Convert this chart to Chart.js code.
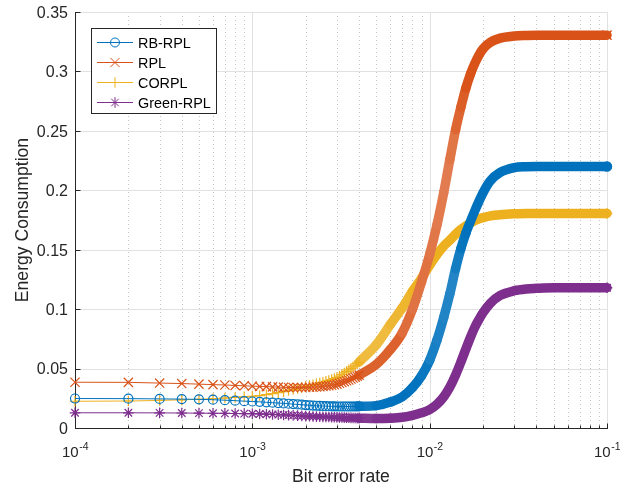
<!DOCTYPE html>
<html>
<head>
<meta charset="utf-8">
<script src="https://cdn.jsdelivr.net/npm/chart.js@4.4.1/dist/chart.umd.min.js"></script>
<style>
  html, body { margin: 0; padding: 0; background: #fff; }
</style>
</head>
<body>
<canvas id="chart" width="632" height="487"></canvas>
<script>
// series names, in legend order
const seriesNames = ['RB-RPL', 'RPL', 'CORPL', 'Green-RPL'];

// distinct markers, bit error rate from 1e-4 to 4e-3
const markerX = [
  0.0001, 0.0002, 0.0003, 0.0004, 0.0005, 0.0006, 0.0007, 0.0008, 0.0009, 0.0010,
  0.0011, 0.0012, 0.0013, 0.0014, 0.0015, 0.0016, 0.0017, 0.0018, 0.0019, 0.0020,
  0.0021, 0.0022, 0.0023, 0.0024, 0.0025, 0.0026, 0.0027, 0.0028, 0.0029, 0.0030,
  0.0031, 0.0032, 0.0033, 0.0034, 0.0035, 0.0036, 0.0037, 0.0038, 0.0039, 0.0040
];
const rbRplMarks = [
  0.0248, 0.0247, 0.0245, 0.0243, 0.0241, 0.0238, 0.0234, 0.0230, 0.0226, 0.0223,
  0.0220, 0.0216, 0.0213, 0.0210, 0.0207, 0.0204, 0.0201, 0.0198, 0.0196, 0.0193,
  0.0191, 0.0189, 0.0187, 0.0186, 0.0185, 0.0184, 0.0183, 0.0182, 0.0182, 0.0181,
  0.0181, 0.0181, 0.0181, 0.0181, 0.0181, 0.0181, 0.0181, 0.0181, 0.0182, 0.0182
];
const rplMarks = [
  0.0385, 0.0384, 0.0378, 0.0374, 0.0369, 0.0365, 0.0362, 0.0358, 0.0355, 0.0352,
  0.0350, 0.0348, 0.0346, 0.0344, 0.0342, 0.0341, 0.0340, 0.0340, 0.0340, 0.0341,
  0.0342, 0.0343, 0.0345, 0.0347, 0.0350, 0.0353, 0.0356, 0.0360, 0.0364, 0.0369,
  0.0376, 0.0383, 0.0390, 0.0397, 0.0404, 0.0412, 0.0420, 0.0428, 0.0436, 0.0445
];
const corplMarks = [
  0.0225, 0.0227, 0.0232, 0.0237, 0.0242, 0.0247, 0.0252, 0.0257, 0.0262, 0.0267,
  0.0273, 0.0281, 0.0290, 0.0298, 0.0306, 0.0315, 0.0324, 0.0333, 0.0342, 0.0350,
  0.0357, 0.0364, 0.0371, 0.0378, 0.0385, 0.0392, 0.0400, 0.0408, 0.0416, 0.0424,
  0.0437, 0.0450, 0.0463, 0.0476, 0.0489, 0.0502, 0.0515, 0.0528, 0.0541, 0.0555
];
const greenRplMarks = [
  0.0128, 0.0128, 0.0127, 0.0126, 0.0125, 0.0124, 0.0123, 0.0122, 0.0121, 0.0120,
  0.0118, 0.0116, 0.0114, 0.0112, 0.0110, 0.0108, 0.0106, 0.0104, 0.0102, 0.0100,
  0.0099, 0.0097, 0.0096, 0.0095, 0.0094, 0.0093, 0.0092, 0.0091, 0.0090, 0.0089,
  0.0088, 0.0088, 0.0087, 0.0086, 0.0086, 0.0085, 0.0084, 0.0084, 0.0083, 0.0083
];

// dense part, where the markers merge into a band
const bandX = [
  0.004, 0.005, 0.006, 0.007, 0.008, 0.009, 0.010, 0.011, 0.012,
  0.013, 0.014, 0.015, 0.016, 0.017, 0.018, 0.019, 0.020, 0.022, 0.025,
  0.030, 0.035, 0.040, 0.050, 0.070, 0.100
];
const rbRplBand = [
  0.0182, 0.0188, 0.0218, 0.0262, 0.0340, 0.0440, 0.0570, 0.0740, 0.0930,
  0.1130, 0.1340, 0.1510, 0.1640, 0.1740, 0.1830, 0.1910, 0.1980, 0.2080, 0.2150,
  0.2190, 0.2198, 0.2200, 0.2200, 0.2200, 0.2200
];
const rplBand = [
  0.0445, 0.0535, 0.0660, 0.0800, 0.1000, 0.1230, 0.1460, 0.1710, 0.1980,
  0.2260, 0.2510, 0.2700, 0.2860, 0.2980, 0.3070, 0.3140, 0.3190, 0.3245, 0.3280,
  0.3298, 0.3303, 0.3305, 0.3305, 0.3305, 0.3305
];
const corplBand = [
  0.0555, 0.0700, 0.0870, 0.1010, 0.1150, 0.1260, 0.1370, 0.1460, 0.1530,
  0.1580, 0.1630, 0.1670, 0.1700, 0.1725, 0.1745, 0.1760, 0.1770, 0.1785, 0.1795,
  0.1802, 0.1805, 0.1805, 0.1805, 0.1805, 0.1805
];
const greenRplBand = [
  0.0083, 0.0079, 0.0082, 0.0090, 0.0107, 0.0128, 0.0155, 0.0200, 0.0262,
  0.0345, 0.0445, 0.0555, 0.0665, 0.0765, 0.0850, 0.0915, 0.0970, 0.1050, 0.1115,
  0.1155, 0.1170, 0.1175, 0.1180, 0.1180, 0.1180
];

// axes
const xMajor = [0.0001, 0.001, 0.01, 0.1];
const xMajorExp = ['-4', '-3', '-2', '-1'];
const xMinorMult = [2, 3, 4, 5, 6, 7, 8, 9];
const yTicks = [0, 0.05, 0.1, 0.15, 0.2, 0.25, 0.3, 0.35];
const yTickLabels = ['0', '0.05', '0.1', '0.15', '0.2', '0.25', '0.3', '0.35'];

const colors = ['#0072BD', '#D95319', '#EDB120', '#7E2F8E'];
const rgb = [[0, 114, 189], [217, 83, 25], [237, 177, 32], [126, 47, 142]];
const markStyles = ['circle', 'crossRot', 'cross', 'star'];
const markRadius = [4.5, 6.5, 5.3, 5.3];
const drawOrder = [0, 1, 3, 2]; // lower is drawn on top
const FONT = "'Liberation Sans', Arial, Helvetica, sans-serif";
const AXIS = '#262626';

const marks = [rbRplMarks, rplMarks, corplMarks, greenRplMarks];
const bands = [rbRplBand, rplBand, corplBand, greenRplBand];

// the original has one marker every 1e-4; where they spread apart the band looks lighter
function bandColor(i) {
    return (ctx) => {
        const p0 = ctx.p0, p1 = ctx.p1;
        const xv = p0.parsed.x;
        const step = 177.3 * Math.log10(1 + 0.0001 / xv);
        const m = Math.abs(p1.y - p0.y) / Math.max(0.01, Math.abs(p1.x - p0.x));
        const gap = step * Math.sqrt(1 + m * m);
        const f = Math.min(0.24, Math.max(0, (gap - 1.5) * 0.12));
        const c = rgb[i].map(v => Math.round(v + (255 - v) * f));
        return 'rgb(' + c.join(',') + ')';
    };
}

const datasets = [];
seriesNames.forEach((name, i) => {
    datasets.push({
        label: name + ' band',
        data: bandX.map((x, k) => ({ x: x, y: bands[i][k] })),
        borderColor: colors[i],
        borderWidth: 9.5,
        borderCapStyle: 'round',
        borderJoinStyle: 'round',
        cubicInterpolationMode: 'monotone',
        segment: { borderColor: bandColor(i) },
        pointStyle: markStyles[i],
        pointRadius: (ctx) => ctx.dataIndex === bandX.length - 1 ? markRadius[i] : 0,
        pointBorderColor: colors[i],
        pointBackgroundColor: 'rgba(0,0,0,0)',
        pointBorderWidth: 1.5,
        clip: false,
        order: drawOrder[i] + 0.5
    });
    datasets.push({
        label: name,
        data: markerX.map((x, k) => ({ x: x, y: marks[i][k] })),
        borderColor: colors[i],
        borderWidth: 1,
        pointStyle: markStyles[i],
        pointRadius: markRadius[i],
        pointBorderColor: colors[i],
        pointBackgroundColor: 'rgba(0,0,0,0)',
        pointBorderWidth: 1.2,
        clip: false,
        order: drawOrder[i]
    });
});

function line(ctx, x0, y0, x1, y1) {
    ctx.beginPath();
    ctx.moveTo(x0, y0);
    ctx.lineTo(x1, y1);
    ctx.stroke();
}

function drawMarker(ctx, style, r, x, y) {
    const d = r * Math.SQRT1_2;
    ctx.beginPath();
    if (style === 'circle') {
        ctx.arc(x, y, r, 0, Math.PI * 2);
    }
    if (style === 'cross' || style === 'star') {
        ctx.moveTo(x - r, y); ctx.lineTo(x + r, y);
        ctx.moveTo(x, y - r); ctx.lineTo(x, y + r);
    }
    if (style === 'crossRot' || style === 'star') {
        ctx.moveTo(x - d, y - d); ctx.lineTo(x + d, y + d);
        ctx.moveTo(x - d, y + d); ctx.lineTo(x + d, y - d);
    }
    ctx.stroke();
}

// grid, axes, ticks and labels drawn like MATLAB
const matlabAxes = {
    id: 'matlabAxes',
    beforeDatasetsDraw(chart) {
        const { ctx, chartArea: a, scales: { x, y } } = chart;
        const px = (v) => Math.round(x.getPixelForValue(v)) + 0.5;
        const py = (v) => Math.round(y.getPixelForValue(v)) + 0.5;
        const minors = [];
        xMajor.slice(0, -1).forEach(d => xMinorMult.forEach(m => minors.push(d * m)));

        ctx.save();
        ctx.lineWidth = 1;

        // minor grid (dotted)
        ctx.strokeStyle = '#c4c4c4';
        ctx.setLineDash([1, 3]);
        minors.forEach(v => line(ctx, px(v), a.top, px(v), a.bottom));
        ctx.setLineDash([]);

        // major grid
        ctx.strokeStyle = '#e1e1e1';
        xMajor.forEach(v => line(ctx, px(v), a.top, px(v), a.bottom));
        yTicks.forEach(v => line(ctx, a.left, py(v), a.right, py(v)));

        // axis lines
        ctx.strokeStyle = AXIS;
        line(ctx, px(xMajor[0]), a.top, px(xMajor[0]), py(0) + 0.5);
        line(ctx, px(xMajor[0]) - 0.5, py(0), a.right + 1, py(0));

        // inward ticks
        yTicks.forEach(v => line(ctx, px(xMajor[0]), py(v), px(xMajor[0]) + 5, py(v)));
        xMajor.forEach(v => line(ctx, px(v), py(0), px(v), py(0) - 5));
        minors.forEach(v => line(ctx, px(v), py(0), px(v), py(0) - 3));

        // y tick labels
        ctx.fillStyle = AXIS;
        ctx.font = '16px ' + FONT;
        ctx.textAlign = 'right';
        ctx.textBaseline = 'middle';
        yTicks.forEach((v, k) => ctx.fillText(yTickLabels[k], 68, y.getPixelForValue(v) + 1.5));

        // x tick labels, 10 with superscript exponent
        ctx.textAlign = 'left';
        ctx.textBaseline = 'alphabetic';
        xMajor.forEach((v, k) => {
            ctx.font = '15px ' + FONT;
            const w10 = ctx.measureText('10').width;
            ctx.font = '10.5px ' + FONT;
            const we = ctx.measureText(xMajorExp[k]).width;
            const x0 = x.getPixelForValue(v) - (w10 + we) / 2;
            ctx.font = '15px ' + FONT;
            ctx.fillText('10', x0, 457);
            ctx.font = '10.5px ' + FONT;
            ctx.fillText(xMajorExp[k], x0 + w10 + 0.5, 450);
        });

        // axis titles
        ctx.font = '17.6px ' + FONT;
        ctx.textAlign = 'center';
        ctx.fillText('Bit error rate', (a.left + a.right) / 2, 482);
        ctx.save();
        ctx.translate(28, (a.top + a.bottom) / 2);
        ctx.rotate(-Math.PI / 2);
        ctx.fillText('Energy Consumption', 0, 0);
        ctx.restore();

        ctx.restore();
    },
    afterDatasetsDraw(chart) {
        const ctx = chart.ctx;
        ctx.save();
        ctx.fillStyle = '#fff';
        ctx.fillRect(91.5, 28.5, 125, 85);
        ctx.strokeStyle = AXIS;
        ctx.lineWidth = 1;
        ctx.strokeRect(91.5, 28.5, 125, 85);

        ctx.font = '14.4px ' + FONT;
        ctx.textAlign = 'left';
        ctx.textBaseline = 'alphabetic';
        seriesNames.forEach((name, i) => {
            const yy = 42 + i * 20;
            ctx.strokeStyle = colors[i];
            ctx.lineWidth = 1;
            line(ctx, 97, yy + 0.5, 133, yy + 0.5);
            drawMarker(ctx, markStyles[i], markRadius[i], 115, yy + 0.5);
            ctx.fillStyle = '#000';
            ctx.fillText(name, 138, yy + 5.5);
        });
        ctx.restore();
    }
};

new Chart(document.getElementById('chart'), {
    type: 'line',
    data: { datasets: datasets },
    options: {
        responsive: false,
        animation: false,
        layout: { padding: { left: 75, right: 25, top: 12, bottom: 59 } },
        plugins: { legend: { display: false }, tooltip: { enabled: false } },
        scales: {
            x: { type: 'logarithmic', min: 0.0001, max: 0.1, display: false },
            y: { type: 'linear', min: 0, max: 0.35, display: false }
        }
    },
    plugins: [matlabAxes]
});
</script>
</body>
</html>
